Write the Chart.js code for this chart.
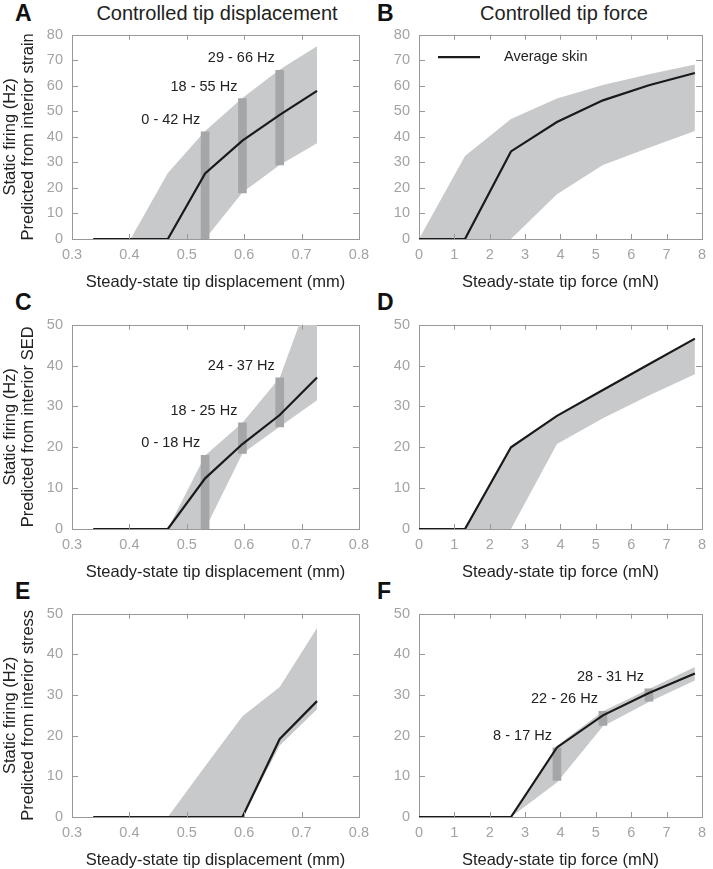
<!DOCTYPE html>
<html>
<head>
<meta charset="utf-8">
<script src="https://cdn.jsdelivr.net/npm/chart.js@4.4.1/dist/chart.umd.min.js"></script>
<style>
  html, body { margin: 0; padding: 0; background: #fff; overflow: hidden; }
  body { width: 713px; height: 869px; position: relative; font-family: "Liberation Sans", Arial, sans-serif; }
  .panel { position: absolute; }
  .letter { position: absolute; font-size: 23px; font-weight: bold; line-height: 1; color: #111; }
  .heading { position: absolute; width: 300px; font-size: 20px; line-height: 1; color: #222; text-align: center; }
</style>
</head>
<body>
<div class="heading" style="left:67px;top:3px">Controlled tip displacement</div>
<div class="heading" style="left:414px;top:3px">Controlled tip force</div>
<div class="letter" style="left:15px;top:1.5px">A</div>
<div class="letter" style="left:377px;top:1.5px">B</div>
<div class="letter" style="left:15px;top:290.5px">C</div>
<div class="letter" style="left:377px;top:290.5px">D</div>
<div class="letter" style="left:15px;top:579.5px">E</div>
<div class="letter" style="left:377px;top:579.5px">F</div>

<canvas id="chartA" class="panel" width="376" height="280" style="left:0;top:17px"></canvas>
<canvas id="chartB" class="panel" width="343" height="280" style="left:370px;top:17px"></canvas>
<canvas id="chartC" class="panel" width="376" height="280" style="left:0;top:307px"></canvas>
<canvas id="chartD" class="panel" width="343" height="280" style="left:370px;top:307px"></canvas>
<canvas id="chartE" class="panel" width="376" height="279" style="left:0;top:596px"></canvas>
<canvas id="chartF" class="panel" width="343" height="279" style="left:370px;top:596px"></canvas>

<script>
// x positions of the simulated steps
const dispX = [0.337, 0.402, 0.467, 0.532, 0.597, 0.662, 0.727];
const forceX = [0, 1.3, 2.6, 3.9, 5.2, 6.5, 7.8];

// A: strain, controlled displacement
const strainDispMean = [0, 0, 0, 25.7, 38.5, 48.6, 58];
const strainDispHigh = [0, 0, 25.8, 42.3, 55.2, 66.4, 75.5];
const strainDispLow = [0, 0, 0, 0, 18.2, 29, 37.5];
const strainDispRangeX = [0.532, 0.597, 0.662];
const strainDispRangeLow = [0, 18, 29];
const strainDispRangeHigh = [42, 55, 66];
const strainDispRangeText = ['0 - 42 Hz', '18 - 55 Hz', '29 - 66 Hz'];

// B: strain, controlled force
const strainForceMean = [0, 0, 34.3, 45.8, 54.3, 60.2, 65];
const strainForceHigh = [0, 32.5, 47, 55, 60.3, 64.5, 68.3];
const strainForceLow = [0, 0, 0, 17.5, 29, 35.7, 42.3];

// C: SED, controlled displacement
const sedDispMean = [0, 0, 0, 12.4, 20.8, 27.9, 37.1];
const sedDispHigh = [0, 0, 0, 18, 26, 37, 62];
const sedDispLow = [0, 0, 0, 0, 18.5, 25, 31.5];
const sedDispRangeX = [0.532, 0.597, 0.662];
const sedDispRangeLow = [0, 18.5, 25];
const sedDispRangeHigh = [18, 26, 37];
const sedDispRangeText = ['0 - 18 Hz', '18 - 25 Hz', '24 - 37 Hz'];

// D: SED, controlled force
const sedForceMean = [0, 0, 20, 27.7, 34, 40.3, 46.6];
const sedForceHigh = [0, 0, 20, 27.7, 34, 40.3, 46.6];
const sedForceLow = [0, 0, 0, 20.8, 27.1, 32.7, 37.9];

// E: stress, controlled displacement
const stressDispMean = [0, 0, 0, 0, 0, 19.2, 28.5];
const stressDispHigh = [0, 0, 0, 12.5, 24.8, 32, 46.5];
const stressDispLow = [0, 0, 0, 0, 0, 17.6, 26.5];

// F: stress, controlled force
const stressForceMean = [0, 0, 0, 17.1, 25, 30.5, 35.3];
const stressForceHigh = [0, 0, 0, 17.5, 26, 31.5, 36.9];
const stressForceLow = [0, 0, 0, 8.5, 22.3, 28.3, 33.6];
const stressForceRangeX = [3.9, 5.2, 6.5];
const stressForceRangeLow = [9, 22.5, 28.5];
const stressForceRangeHigh = [17, 26, 31.5];
const stressForceRangeText = ['8 - 17 Hz', '22 - 26 Hz', '28 - 31 Hz'];

const fontFamily = '"Liberation Sans", Arial, sans-serif';
const bandColor = '#c8c9cb';
const barColor = '#a5a6a8';
const frameColor = '#999999';
const tickColor = '#a3a3a3';
const textColor = '#222222';

function pts(xs, ys) {
  return xs.map((x, i) => ({x: x, y: ys[i]}));
}

const framePlugin = {
  id: 'frame',
  beforeDatasetsDraw(chart) {
    const {ctx, chartArea: a} = chart;
    ctx.save();
    ctx.strokeStyle = frameColor;
    ctx.lineWidth = 1;
    ctx.strokeRect(Math.round(a.left) + 0.5, Math.round(a.top) + 0.5, Math.round(a.width), Math.round(a.height));
    ctx.restore();
  },
  afterDatasetsDraw(chart, args, opts) {
    const {ctx, chartArea: a, scales} = chart;
    ctx.save();
    ctx.strokeStyle = frameColor;
    ctx.lineWidth = 1;
    ctx.beginPath();
    scales.x.ticks.forEach(t => {
      if (t.value <= scales.x.min || t.value >= scales.x.max) return;
      const px = Math.round(scales.x.getPixelForValue(t.value)) + 0.5;
      ctx.moveTo(px, a.bottom); ctx.lineTo(px, a.bottom - 5);
      ctx.moveTo(px, a.top); ctx.lineTo(px, a.top + 5);
    });
    scales.y.ticks.forEach(t => {
      if (t.value <= scales.y.min || t.value >= scales.y.max) return;
      const py = Math.round(scales.y.getPixelForValue(t.value)) + 0.5;
      ctx.moveTo(a.left, py); ctx.lineTo(a.left + 6, py);
      ctx.moveTo(a.right, py); ctx.lineTo(a.right - 6, py);
    });
    ctx.stroke();

    // range labels above the darker bars
    ctx.fillStyle = textColor;
    ctx.font = '14.5px ' + fontFamily;
    ctx.textAlign = 'right';
    ctx.textBaseline = 'middle';
    (opts.rangeText || []).forEach((txt, i) => {
      const px = scales.x.getPixelForValue(opts.rangeX[i]);
      const py = scales.y.getPixelForValue(opts.rangeHigh[i]);
      ctx.fillText(txt, px - 5, py - 12);
    });

    if (opts.legend) {
      const ly = a.top + 22.5;
      ctx.strokeStyle = '#1a1a1a';
      ctx.lineWidth = 2.2;
      ctx.beginPath();
      ctx.moveTo(a.left + 19, ly); ctx.lineTo(a.left + 61, ly);
      ctx.stroke();
      ctx.textAlign = 'left';
      ctx.fillText(opts.legend, a.left + 85, ly);
    }
    ctx.restore();
  }
};

function makePanel(id, p) {
  const datasets = [
    {label: 'Average skin', data: pts(p.x, p.mean), borderColor: '#1a1a1a', borderWidth: 2.2,
     pointRadius: 0, fill: false, tension: 0, order: 0},
    {type: 'bar', label: 'range', data: (p.rangeX || []).map((x, i) => ({x: x, y: [p.rangeLow[i], p.rangeHigh[i]]})),
     backgroundColor: barColor, barThickness: 8, order: 1},
    {label: 'high', data: pts(p.x, p.high), borderColor: 'rgba(0,0,0,0)', borderWidth: 0,
     pointRadius: 0, backgroundColor: bandColor, fill: '+1', tension: 0, order: 2},
    {label: 'low', data: pts(p.x, p.low), borderColor: 'rgba(0,0,0,0)', borderWidth: 0,
     pointRadius: 0, fill: false, tension: 0, order: 2}
  ];
  return new Chart(document.getElementById(id), {
    type: 'line',
    data: {datasets: datasets},
    plugins: [framePlugin],
    options: {
      responsive: false,
      animation: false,
      layout: {padding: {left: 0, top: 12, right: p.padRight, bottom: 0}},
      plugins: {
        legend: {display: false},
        tooltip: {enabled: false},
        frame: {rangeX: p.rangeX, rangeHigh: p.rangeHigh, rangeText: p.rangeText, legend: p.legend}
      },
      scales: {
        x: {
          type: 'linear', min: p.xMin, max: p.xMax, offset: false,
          ticks: {stepSize: p.xStep, color: tickColor, font: {family: fontFamily, size: 14.5, lineHeight: 1.2},
                  padding: 7, maxRotation: 0, autoSkip: false},
          grid: {display: false, drawTicks: false},
          border: {display: false},
          title: {display: true, text: p.xTitle, color: textColor,
                  font: {family: fontFamily, size: 16.5, lineHeight: 1.2}, padding: {top: 0, bottom: 5}},
          afterFit: s => { s.height = 58; }
        },
        y: {
          type: 'linear', min: 0, max: p.yMax,
          ticks: {stepSize: 10, color: tickColor, font: {family: fontFamily, size: 14.5, lineHeight: 1.2}, padding: 9},
          grid: {display: false, drawTicks: false},
          border: {display: false},
          title: {display: !!p.yTitle, text: p.yTitle || '', color: textColor,
                  font: {family: fontFamily, size: 16.5, lineHeight: 1.1}, padding: {top: 1, bottom: 0}},
          afterFit: s => { s.width = p.yWidth; }
        }
      }
    }
  });
}

const dispAxis = {xMin: 0.3, xMax: 0.8, xStep: 0.1, xTitle: 'Steady-state tip displacement (mm)', yWidth: 72, padRight: 13};
const forceAxis = {xMin: 0, xMax: 8, xStep: 1, xTitle: 'Steady-state tip force (mN)', yWidth: 49, padRight: 4};

makePanel('chartA', Object.assign({}, dispAxis, {
  x: dispX, mean: strainDispMean, high: strainDispHigh, low: strainDispLow, yMax: 80,
  rangeX: strainDispRangeX, rangeLow: strainDispRangeLow, rangeHigh: strainDispRangeHigh, rangeText: strainDispRangeText,
  yTitle: ['Static firing (Hz)', 'Predicted from interior strain']
}));
makePanel('chartB', Object.assign({}, forceAxis, {
  x: forceX, mean: strainForceMean, high: strainForceHigh, low: strainForceLow, yMax: 80,
  legend: 'Average skin'
}));
makePanel('chartC', Object.assign({}, dispAxis, {
  x: dispX, mean: sedDispMean, high: sedDispHigh, low: sedDispLow, yMax: 50,
  rangeX: sedDispRangeX, rangeLow: sedDispRangeLow, rangeHigh: sedDispRangeHigh, rangeText: sedDispRangeText,
  yTitle: ['Static firing (Hz)', 'Predicted from interior SED']
}));
makePanel('chartD', Object.assign({}, forceAxis, {
  x: forceX, mean: sedForceMean, high: sedForceHigh, low: sedForceLow, yMax: 50
}));
makePanel('chartE', Object.assign({}, dispAxis, {
  x: dispX, mean: stressDispMean, high: stressDispHigh, low: stressDispLow, yMax: 50,
  yTitle: ['Static firing (Hz)', 'Predicted from interior stress']
}));
makePanel('chartF', Object.assign({}, forceAxis, {
  x: forceX, mean: stressForceMean, high: stressForceHigh, low: stressForceLow, yMax: 50,
  rangeX: stressForceRangeX, rangeLow: stressForceRangeLow, rangeHigh: stressForceRangeHigh, rangeText: stressForceRangeText
}));
</script>
</body>
</html>
